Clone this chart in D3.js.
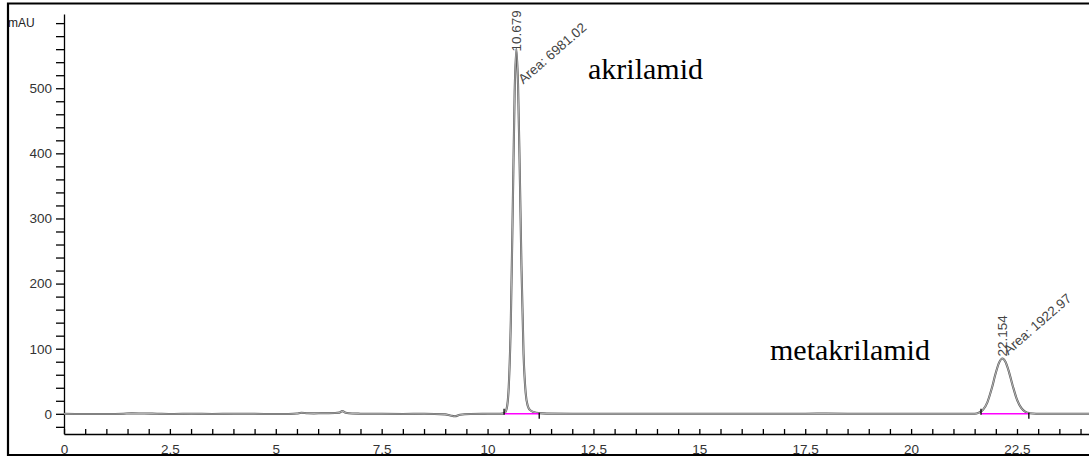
<!DOCTYPE html>
<html lang="en">
<head>
  <meta charset="UTF-8" />
  <title>Chromatogram</title>
  <script src="https://d3js.org/d3.v7.min.js"></script>
  <style>
    body { margin: 0; background: #fff; }
    svg { display: block; }
    .axis text { font-family: "Liberation Sans", Arial, sans-serif; font-size: 13.5px; fill: #333; }
    .axis path, .axis line { stroke: #000; stroke-width: 1.3; fill: none; }
    .peaklab { font-family: "Liberation Sans", Arial, sans-serif; font-size: 13.5px; fill: #444; }
    .name { font-family: "Liberation Serif", "Times New Roman", serif; font-size: 30px; fill: #000; }
  </style>
</head>
<body>
  <svg id="chart" width="1089" height="456"></svg>

  <script>
  // signal trace (time in min, signal in mAU)
  const time = [
    0, 0.5, 1.0, 1.4, 1.6, 1.9, 2.2, 2.6, 3.0, 3.5, 4.0, 4.5, 5.0, 5.3, 5.5, 5.6,
    5.75, 5.9, 6.1, 6.4, 6.5, 6.57, 6.65, 6.8, 7.0, 7.5, 8.0, 8.5, 9.0, 9.12, 9.23,
    9.35, 9.6, 10.0, 10.3, 10.4, 10.45, 10.5, 10.55, 10.6, 10.64, 10.679, 10.72,
    10.76, 10.8, 10.85, 10.9, 10.95, 11.0, 11.1, 11.22, 11.4, 12.0, 13.0, 14.0,
    15.0, 16.0, 17.0, 18.0, 19.0, 20.0, 21.0, 21.5, 21.6, 21.7, 21.8, 21.9, 22.0,
    22.08, 22.154, 22.23, 22.3, 22.4, 22.5, 22.6, 22.7, 22.8, 22.95, 23.3, 24.2
  ];
  const signal = [
    0, -0.3, -0.2, 0.2, 0.6, 0.5, 0.1, -0.3, 0, -0.2, 0.1, 0, -0.4, -0.2, 0.4, 1.6,
    0.8, 0.6, 1.0, 1.2, 1.8, 4.2, 1.6, 0.4, 0.2, 0, -0.3, 0.1, -0.8, -2.5, -3.8,
    -1.5, -0.3, 0, 0.2, 1, 7.6, 41, 144, 336, 494, 561, 505,
    374, 228, 92, 32, 12, 6, 2.5, 1, 0.3, 0, 0.2, 0,
    0, 0.2, 0, 0.3, 0, 0.2, 0, 0.1, 1.8, 6.4, 17.7, 38, 63,
    79, 85, 79.7, 66.7, 42.8, 21.8, 9, 3, 1, 0.2, 0, 0
  ];

  // integrated peaks
  const peakRT    = [10.679, 22.154];
  const peakH     = [561, 85];
  const peakArea  = ["6981.02", "1922.97"];
  const peakStart = [10.39, 21.65];
  const peakEnd   = [11.22, 22.78];
  const peakNames = ["akrilamid", "metakrilamid"];

  const xTicks = d3.range(0, 24.01, 0.5);
  const yTicks = d3.range(-20, 601, 20);

  const svg = d3.select("#chart");
  const x = d3.scaleLinear().domain([0, 24.2]).range([64, 1089]);
  const y = d3.scaleLinear().domain([-31, 614]).range([434, 14]);

  // x axis (ticks point up, labels below)
  svg.append("g").attr("class", "axis")
    .attr("transform", "translate(0,434)")
    .call(d3.axisBottom(x).tickValues(xTicks).tickSizeInner(-5).tickSizeOuter(0).tickPadding(10)
      .tickFormat(d => (Math.round(d * 2) % 5 === 0) ? String(d) : ""));

  // y axis
  svg.append("g").attr("class", "axis")
    .attr("transform", "translate(64,0)")
    .call(d3.axisLeft(y).tickValues(yTicks).tickSize(8).tickPadding(4).tickSizeOuter(0)
      .tickFormat(d => (d % 100 === 0 && d < 600) ? d : ""));

  svg.append("text")
    .attr("class", "peaklab")
    .attr("x", 8).attr("y", y(600) + 4)
    .style("font-size", "12px").style("fill", "#222")
    .text("mAU");

  const pts = time.map((t, i) => [t, signal[i]]);
  const line = d3.line().x(d => x(d[0])).y(d => y(d[1])).curve(d3.curveMonotoneX);

  svg.append("path").datum(pts)
    .attr("d", line).attr("fill", "none")
    .attr("stroke", "#555").attr("stroke-width", 2.1);
  svg.append("path").datum(pts)
    .attr("d", line).attr("fill", "none")
    .attr("stroke", "#b0b0b0").attr("stroke-width", 1.1);

  // integration baselines and markers
  peakRT.forEach((rt, i) => {
    svg.append("line")
      .attr("x1", x(peakStart[i])).attr("x2", x(peakEnd[i]))
      .attr("y1", y(0)).attr("y2", y(0))
      .attr("stroke", "#ff00ff").attr("stroke-width", 1.5);
    svg.append("line")
      .attr("x1", x(peakStart[i])).attr("x2", x(peakStart[i]))
      .attr("y1", y(0) + 1).attr("y2", y(0) - 5)
      .attr("stroke", "#000").attr("stroke-width", 1.3);
    svg.append("line")
      .attr("x1", x(peakEnd[i])).attr("x2", x(peakEnd[i]))
      .attr("y1", y(0) - 1).attr("y2", y(0) + 5)
      .attr("stroke", "#000").attr("stroke-width", 1.3);

    const px = x(rt), py = y(peakH[i]);
    svg.append("text").attr("class", "peaklab")
      .attr("transform", `translate(${px + 5},${py + (i === 0 ? 3 : -2)}) rotate(-90)`)
      .text(rt.toFixed(3));
  });

  // area labels
  const areaOff = [[7, 36], [6, -3]];
  peakRT.forEach((rt, i) => {
    const px = x(rt) + areaOff[i][0], py = y(peakH[i]) + areaOff[i][1];
    svg.append("text").attr("class", "peaklab")
      .attr("transform", `translate(${px},${py}) rotate(-41)`)
      .text("Area: " + peakArea[i]);
  });

  // compound names
  const namePos = [[588, 79], [770, 360]];
  peakNames.forEach((n, i) => {
    svg.append("text").attr("class", "name")
      .attr("x", namePos[i][0]).attr("y", namePos[i][1])
      .text(n);
  });

  // frame
  svg.append("path")
    .attr("d", "M8,456 V3.5 H1089 M8,455 H1089")
    .attr("fill", "none").attr("stroke", "#000").attr("stroke-width", 2.2);
  </script>
</body>
</html>
